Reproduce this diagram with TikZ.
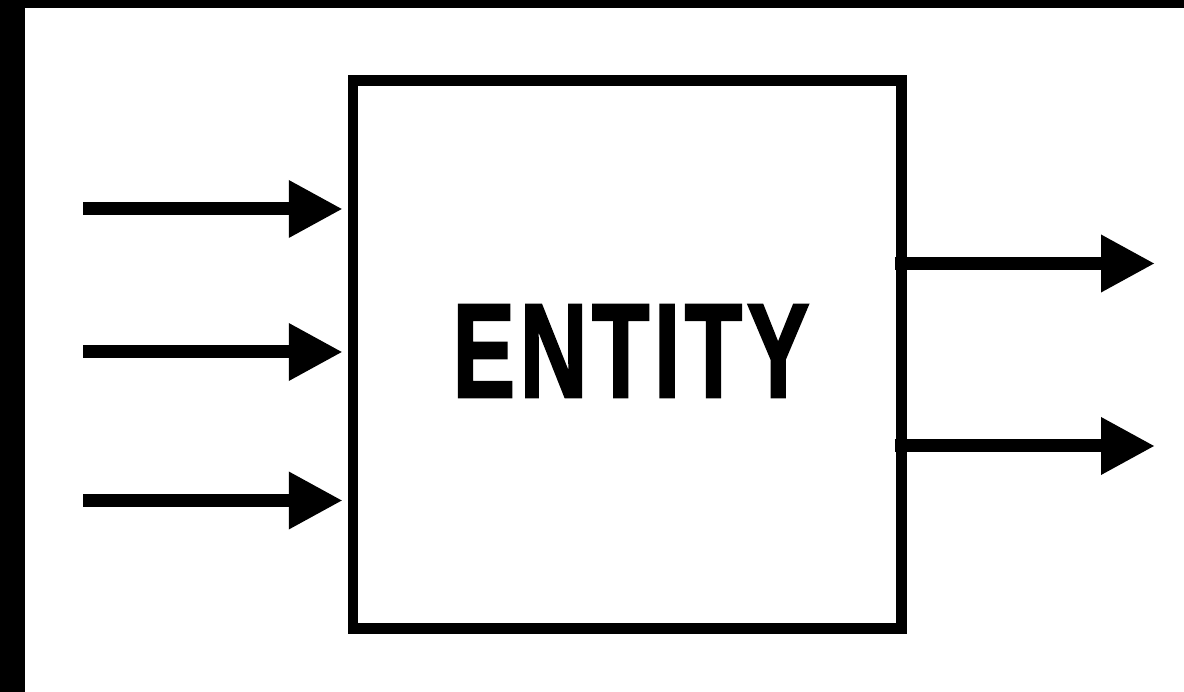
\documentclass[tikz,border=0pt]{standalone}
\usepackage{fontspec}
\newfontfamily\entityfont[FakeBold=2, LetterSpace=5]{Liberation Sans Bold}
\usepackage{tikz}
\usetikzlibrary{arrows.meta, positioning}

\begin{document}
\begin{tikzpicture}[
			x=1pt, y=-1pt,
			flow/.style={
					line width=13pt,
					-{Triangle[length=54pt, width=54pt]}
				},
			entitybox/.style={
					draw,
					line width=10.5pt,
					inner sep=0pt,
					minimum width=548.5pt,
					minimum height=548pt
				},
			entitytext/.style={
					inner sep=0pt,
					font=\entityfont\fontsize{134}{134}\selectfont,
					xscale=0.7
				}
		]
		\useasboundingbox (0, 0) rectangle (1184, 692);
		% dark edges of the frame
		\fill (0, 0) rectangle (25, 692);
		\fill (0, 0) rectangle (1184, 8);

		\node[entitybox] (box) at (627.25, 354.5) {};
		\node[entitytext] (name) at (631, 351) {ENTITY};

		% inputs
		\coordinate (in1) at (83, 209);
		\coordinate (in2) at (83, 352);
		\coordinate (in3) at (83, 500.5);
		\draw[flow, shorten >=5pt] (in1) -- (in1 -| box.west);
		\draw[flow, shorten >=5pt] (in2) -- (in2 -| box.west);
		\draw[flow, shorten >=5pt] (in3) -- (in3 -| box.west);

		% outputs
		\coordinate (out1) at (1155, 263.5);
		\coordinate (out2) at (1155, 446);
		\draw[flow, shorten <=-12pt] (out1 -| box.east) -- (out1);
		\draw[flow, shorten <=-12pt] (out2 -| box.east) -- (out2);
	\end{tikzpicture}
\end{document}
